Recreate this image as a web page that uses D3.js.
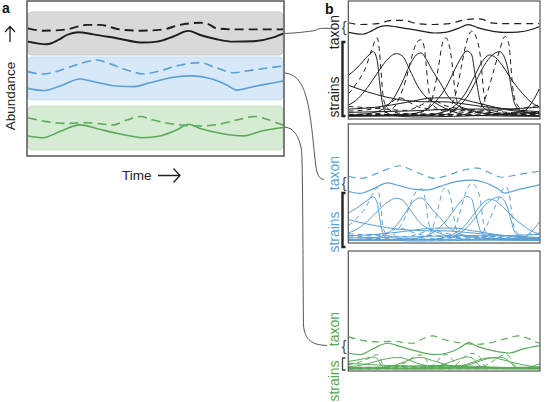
<!DOCTYPE html>
<html><head><meta charset="utf-8">
<script src="https://cdn.jsdelivr.net/npm/d3@7"></script>
<style>
body{margin:0;background:#fff}
svg{display:block}
text{font-family:"Liberation Sans",Arial,Helvetica,sans-serif}
</style>
</head><body>
<svg id="c" width="545" height="402"></svg>
<script>
// ---------------- DATA ----------------
// time runs 0..100 (arbitrary units); abundance in arbitrary units
const timeDomain = [0, 100];
const abundanceDomain = [0, 10];

// Panel a: taxon abundance (solid) and second line (dashed), [time, value]
const blackSolid = [[0,3.1],[7.3,2.5],[11.9,3.5],[15.2,4.65],[19.7,5.3],[25.6,4.8],[34.8,3.9],[45.2,2.9],[50.5,3.1],[57,4.3],[62.9,5.6],[67.5,4.65],[74,3.65],[80.5,3.1],[88.4,3.2],[96.2,4.1],[100,5.0]];
const blackDashed = [[0,6.2],[6,5.65],[15.2,5.95],[23,7.0],[28.2,7.0],[36,5.95],[44,5.65],[53,5.95],[59.6,7.0],[67.5,7.5],[70.7,7.2],[74,6.2],[80.5,5.95],[100,5.95]];
const blueSolid = [[0,2.7],[6,2.2],[12.5,3.25],[20.4,4.9],[25.6,4.3],[34.8,3.25],[41.3,3.1],[47.8,4.0],[57,5.3],[64.8,5.6],[71.4,5.0],[77.9,3.5],[81.8,2.3],[88.4,3.1],[100,4.4]];
const blueDashed = [[0,6.6],[6,6.05],[15.2,7.4],[23,8.9],[26.9,9.3],[32.2,8.4],[38.7,7.0],[45.2,6.05],[51.8,6.8],[59.6,8.1],[67.5,8.7],[72.7,7.75],[80.5,6.35],[88.4,7.0],[100,7.9]];
const greenSolid = [[0,3.2],[6,2.8],[12.5,4.2],[20.4,5.7],[26.9,4.9],[34.8,3.8],[45.2,2.8],[51.8,3.2],[58.3,4.55],[62.9,5.85],[67.5,4.9],[75.3,3.8],[84.4,3.2],[91,4.2],[100,5.1]];
const greenDashed = [[0,7.35],[7.3,6.45],[15.2,6.05],[23,6.2],[33.5,5.7],[38.7,6.8],[43.9,7.6],[49.1,6.8],[57,5.9],[67.5,5.45],[75.3,5.9],[83.1,7.0],[89,7.6],[93.6,7.0],[98.8,5.9],[100,5.7]];

// Panel b: strain abundances (same strain dynamics drawn in each taxon box)
const strainSolidA = [[0,6.3],[5,7.6],[10,9.2],[13,9.9],[15,8.6],[16.2,5.5],[17.5,2.5],[19,0.9],[24,0.2],[35,0],[55,0.1],[80,0.4],[92,0.9],[96,2.2],[100,4.3]];
const strainSolidB = [[0,1.8],[5,2.8],[10,4.5],[15,6.6],[20,8.6],[25,9.6],[28,9.3],[32,7.2],[36,4.8],[40,3.2],[45,2.2],[50,1.4],[55,0.8],[60,0.4],[70,0.2],[100,0.1]];
const strainSolidC = [[0,0.3],[10,0.5],[18,1.2],[24,3],[28,5.2],[32,7.8],[35.5,9.4],[38,9.7],[41,8.6],[44,7],[48,5.2],[52,3.2],[56,2],[62,1.2],[70,0.6],[80,0.3],[100,0.2]];
const strainSolidD = [[0,0.2],[30,0.4],[40,1],[46,2.5],[50,4],[54,6.2],[58,8.5],[62,10],[64.5,9.4],[66,7],[67.5,4.5],[69,2.3],[72,1.1],[78,0.5],[100,0.2]];
const strainSolidE = [[0,0.1],[50,0.3],[56,1.2],[62,3],[67,5.6],[71,7.8],[75,9.3],[79,9.9],[82,8.8],[84,6.5],[85.5,4],[87,2],[90,1],[95,0.6],[100,0.5]];
const strainSolidF = [[0,0.2],[40,0.3],[50,0.8],[56,1.8],[61,3.5],[66,6.2],[70,8.4],[74,9.4],[77,9],[81,7.6],[86,5.4],[91,3.6],[95,2.4],[100,1.5]];
const strainSolidG = [[0,4.8],[10,3.8],[20,3.0],[30,2.5],[40,2.3],[50,2.3],[60,2.0],[70,1.6],[80,1.3],[90,1.0],[100,0.8]];
const strainSolidH = [[0,1.2],[15,1.5],[30,2.2],[45,2.9],[55,2.9],[65,2.3],[75,1.6],[85,1.0],[100,0.5]];
const strainSolidI = [[0,0.7],[30,0.9],[60,1.2],[80,1.2],[100,1.5]];

const strainDashedA = [[0,3.5],[4,5],[9,7.5],[12.5,10.5],[15,12],[16.2,10],[17,7.2],[17.8,4],[19,2],[21,1.2],[26,0.6],[40,0.4],[100,0.3]];
const strainDashedB = [[0,0.4],[18,0.6],[24,1.5],[27,3.2],[30,5.6],[33,9],[36,11.4],[38,11.7],[39.5,10.8],[40.5,8.4],[41.5,5.2],[42.5,3.2],[45,1.6],[50,0.9],[100,0.4]];
const strainDashedC = [[0,0.3],[35,0.5],[42,1.5],[45,4.2],[47,7.4],[49.5,11.5],[51,12],[53,10.5],[54.5,7.5],[55.5,4.5],[57,2.2],[60,1.2],[70,0.6],[100,0.4]];
const strainDashedD = [[0,0.2],[50,0.6],[55,2.5],[57,4.5],[59,7.5],[61.5,11],[64.5,13],[67.5,11.5],[69.5,8],[70.5,4.5],[72,1.8],[76,0.9],[100,0.5]];
const strainDashedE = [[0,0.2],[65,0.5],[70,1.8],[73,4],[76,7],[79,10],[82,12.2],[84,11],[85,7.8],[86,4.5],[88,2],[92,1],[100,0.6]];
const strainDashedF = [[0,0.9],[10,1.1],[20,1.8],[27,2.9],[32,2.2],[38,1.4],[50,1.1],[65,0.9],[80,0.6],[100,0.6]];
const strainDashedG = [[0,0.3],[25,0.4],[50,0.2],[75,0.3],[100,0.7]];
const strainDashedH = [[0,1.6],[15,1.3],[30,1.0],[38,1.8],[44,2.6],[50,1.8],[60,1.2],[75,1.0],[90,1.3],[100,1.8]];

const strainsSolid = [strainSolidA,strainSolidB,strainSolidC,strainSolidD,strainSolidE,strainSolidF,strainSolidG,strainSolidH,strainSolidI];
const strainsDashed = [strainDashedA,strainDashedB,strainDashedC,strainDashedD,strainDashedE,strainDashedF,strainDashedG,strainDashedH];

const labels = {a:"a", b:"b", yTitle:"Abundance", xTitle:"Time", taxon:"taxon", strains:"strains"};

// ---------------- STYLE / LAYOUT ----------------
const taxa = [
  {solid:blackSolid, dashed:blackDashed, line:"#1e1e1e", text:"#1e1e1e", band:"#d9d9d9", bandStroke:"#c4c4c4",
   bandY:[55,12], box:[1,119], taxonY:[42,11], strainY:[117,51], taxonLabel:32, strainLabel:97, brace:27, bracket:[42,116], bracketW:2.4,
   conn:"M283.5,33.5 C300,33 306,31.5 312,31 C317,30.6 317,28.3 324,28.3 L338,28.3"},
  {solid:blueSolid, dashed:blueDashed, line:"#5b9fd6", text:"#5b9fd6", band:"#d7e9f9", bandStroke:"#bcd6ec",
   bandY:[100,57], box:[124,243], taxonY:[202,163], strainY:[241,196.5], taxonLabel:173, strainLabel:232, brace:183, bracket:[193,247], bracketW:2.4,
   conn:"M284.5,73 C297,74 303,84 307,100 C313,125 314,160 317,172 C319,178 321,179 324,179.5"},
  {solid:greenSolid, dashed:greenDashed, line:"#5aaa5a", text:"#55a655", band:"#d6ebd3", bandStroke:"#c0dbbd",
   bandY:[150,106], box:[251,371], taxonY:[365.5,326.5], strainY:[369,357], taxonLabel:329, strainLabel:381, brace:346, bracket:[358,370], bracketW:1.3,
   conn:"M284.5,127 C294,128 299,136 301.5,150 C303,165 303,300 303.5,325 C304.5,340 312,345 327,345.5"}
];

const svg = d3.select("#c");
const xA = d3.scaleLinear(timeDomain, [28, 283]);
const xB = d3.scaleLinear(timeDomain, [348.5, 539.5]);
const boxLeft = 348.3, boxRight = 540;

// ---------------- PANEL A ----------------
svg.append("text").attr("x",2).attr("y",13).attr("font-size",14).attr("font-weight","bold").attr("fill","#111").text(labels.a);

taxa.forEach((tx,i)=>{
  const y = d3.scaleLinear(abundanceDomain, tx.bandY);
  svg.append("rect").attr("x",28).attr("y",tx.bandY[1]).attr("width",255).attr("height",tx.bandY[0]-tx.bandY[1])
    .attr("rx",4).attr("fill",tx.band).attr("stroke",tx.bandStroke).attr("stroke-width",0.8);
  const line = d3.line().x(d=>xA(d[0])).y(d=>y(d[1])).curve(d3.curveMonotoneX);
  svg.append("path").attr("d",line(tx.dashed)).attr("fill","none").attr("stroke",tx.line)
    .attr("stroke-width",i===0?1.9:1.6).attr("stroke-dasharray","9,5");
  svg.append("path").attr("d",line(tx.solid)).attr("fill","none").attr("stroke",tx.line)
    .attr("stroke-width",i===0?1.9:1.6);
});
svg.append("rect").attr("x",27).attr("y",1).attr("width",257).attr("height",155)
  .attr("fill","none").attr("stroke","#555").attr("stroke-width",1.5);

// axis titles & arrows
svg.append("text").attr("transform","translate(15,96) rotate(-90)").attr("text-anchor","middle")
  .attr("font-size",13.5).attr("fill","#222").text(labels.yTitle);
svg.append("path").attr("d","M10,42 V26.5 M5,32 L10,26.5 L15,32").attr("fill","none").attr("stroke","#222").attr("stroke-width",1.3);
svg.append("text").attr("x",122).attr("y",180).attr("font-size",13.5).attr("fill","#222").text(labels.xTitle);
svg.append("path").attr("d","M158,175.5 H179.5 M173.5,168.5 L180,175.5 L173.5,182.5").attr("fill","none").attr("stroke","#222").attr("stroke-width",1.3);

// ---------------- PANEL B ----------------
svg.append("text").attr("x",325).attr("y",14).attr("font-size",14).attr("font-weight","bold").attr("fill","#111").text(labels.b);

const defs = svg.append("defs");
taxa.forEach((tx,i)=>{
  const top = tx.box[0], bot = tx.box[1];
  defs.append("clipPath").attr("id","clip"+i).append("rect")
    .attr("x",boxLeft).attr("y",top).attr("width",boxRight-boxLeft).attr("height",bot-top);
  const g = svg.append("g").attr("clip-path",`url(#clip${i})`);
  const yS = d3.scaleLinear(abundanceDomain, tx.strainY);
  const yT = d3.scaleLinear(abundanceDomain, tx.taxonY);
  const lineS = d3.line().x(d=>xB(d[0])).y(d=>yS(d[1])).curve(d3.curveMonotoneX);
  const lineT = d3.line().x(d=>xB(d[0])).y(d=>yT(d[1])).curve(d3.curveMonotoneX);
  strainsDashed.forEach(s=>g.append("path").attr("d",lineS(s)).attr("fill","none").attr("stroke",tx.line)
    .attr("stroke-width",1).attr("stroke-dasharray","5,4"));
  strainsSolid.forEach(s=>g.append("path").attr("d",lineS(s)).attr("fill","none").attr("stroke",tx.line)
    .attr("stroke-width",1));
  g.append("path").attr("d",lineT(tx.dashed)).attr("fill","none").attr("stroke",tx.line)
    .attr("stroke-width",1.2).attr("stroke-dasharray","7,5");
  g.append("path").attr("d",lineT(tx.solid)).attr("fill","none").attr("stroke",tx.line).attr("stroke-width",1.2);

  svg.append("rect").attr("x",boxLeft).attr("y",top).attr("width",boxRight-boxLeft).attr("height",bot-top)
    .attr("fill","none").attr("stroke","#555").attr("stroke-width",1.2);

  // labels
  svg.append("text").attr("transform",`translate(339,${tx.taxonLabel}) rotate(-90)`).attr("text-anchor","middle")
    .attr("font-size",14).attr("fill",tx.text).text(labels.taxon);
  svg.append("text").attr("transform",`translate(339,${tx.strainLabel}) rotate(-90)`).attr("text-anchor","middle")
    .attr("font-size",14).attr("fill",tx.text).text(labels.strains);
  svg.append("text").attr("x",344).attr("y",tx.brace).attr("text-anchor","middle").attr("dominant-baseline","central")
    .attr("font-size",14).attr("fill","#444").text("{");
  svg.append("path").attr("d",`M345.5,${tx.bracket[0]} H342.5 V${tx.bracket[1]} H345.5`).attr("fill","none")
    .attr("stroke", i===2?"#444":"#222").attr("stroke-width",tx.bracketW);

  // connector from panel a
  svg.append("path").attr("d",tx.conn).attr("fill","none").attr("stroke","#555").attr("stroke-width",1);
});
</script>
</body></html>
